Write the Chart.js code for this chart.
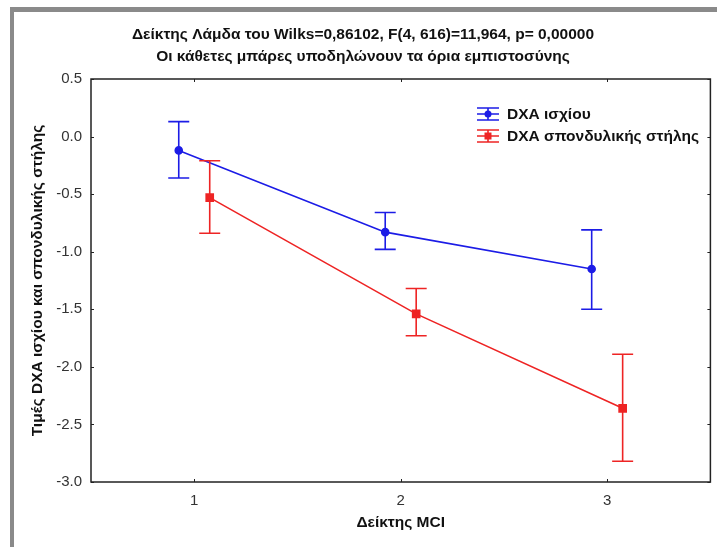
<!DOCTYPE html>
<html>
<head>
<meta charset="utf-8">
<script src="https://cdn.jsdelivr.net/npm/chart.js@4.4.0/dist/chart.umd.min.js"></script>
<style>
  html, body { margin: 0; padding: 0; background: #fff; }
  canvas { display: block; }
</style>
</head>
<body>
<canvas id="chart1" width="717" height="547"></canvas>
<script>
// MCI levels and DXA means with their confidence limits
const mciLevels = [1, 2, 3];
const hipMean = [-0.12, -0.83, -1.15];
const hipUpper = [0.13, -0.66, -0.81];
const hipLower = [-0.36, -0.98, -1.50];
const spineMean = [-0.53, -1.54, -2.36];
const spineUpper = [-0.21, -1.32, -1.89];
const spineLower = [-0.84, -1.73, -2.82];
const yTicks = [0.5, 0.0, -0.5, -1.0, -1.5, -2.0, -2.5, -3.0];
const seriesNames = ['DXA ισχίου', 'DXA σπονδυλικής στήλης'];
const titleLines = [
    'Δείκτης Λάμδα του Wilks=0,86102, F(4, 616)=11,964, p= 0,00000',
    'Οι κάθετες μπάρες υποδηλώνουν τα όρια εμπιστοσύνης'
];

const blue = '#1c1ce6';
const red = '#ee2424';
const dodge = 0.075; // the two series sit a bit left / right of each level
const fontName = '"Liberation Sans", Arial, sans-serif';
const boldSize = 15.5;

function points(means, shift) {
    return mciLevels.map((lvl, i) => ({ x: lvl + shift, y: means[i] }));
}

// white page with the grey frame round it
const page = {
    id: 'page',
    beforeDraw(chart) {
        const ctx = chart.ctx;
        ctx.save();
        ctx.fillStyle = '#fff';
        ctx.fillRect(0, 0, chart.width, chart.height);
        ctx.fillStyle = '#8a8a8a';
        ctx.fillRect(10, 7, chart.width - 10, 5);
        ctx.fillRect(10, 7, 4, chart.height - 7);
        ctx.restore();
    }
};

// vertical confidence bars with caps
const errorBars = {
    id: 'errorBars',
    afterDatasetsDraw(chart) {
        const ctx = chart.ctx;
        const y = chart.scales.y;
        chart.data.datasets.forEach((ds, i) => {
            const meta = chart.getDatasetMeta(i);
            ctx.save();
            ctx.strokeStyle = ds.borderColor;
            ctx.lineWidth = 1.6;
            meta.data.forEach((pt, j) => {
                const top = y.getPixelForValue(ds.upper[j]);
                const bot = y.getPixelForValue(ds.lower[j]);
                ctx.beginPath();
                ctx.moveTo(pt.x, top); ctx.lineTo(pt.x, bot);
                ctx.moveTo(pt.x - 10.5, top); ctx.lineTo(pt.x + 10.5, top);
                ctx.moveTo(pt.x - 10.5, bot); ctx.lineTo(pt.x + 10.5, bot);
                ctx.stroke();
            });
            ctx.restore();
        });
    }
};

// box round the plot with short inward ticks on every side
const frame = {
    id: 'frame',
    afterDraw(chart) {
        const ctx = chart.ctx;
        const a = chart.chartArea;
        const xs = chart.scales.x, ys = chart.scales.y;
        ctx.save();
        ctx.strokeStyle = '#222';
        ctx.lineWidth = 1.5;
        ctx.strokeRect(a.left, a.top, a.right - a.left, a.bottom - a.top);
        ctx.lineWidth = 1;
        ctx.beginPath();
        xs.ticks.forEach(t => {
            const px = Math.round(xs.getPixelForValue(t.value)) + 0.5;
            ctx.moveTo(px, a.bottom); ctx.lineTo(px, a.bottom - 3);
            ctx.moveTo(px, a.top); ctx.lineTo(px, a.top + 3);
        });
        ys.ticks.forEach(t => {
            const py = Math.round(ys.getPixelForValue(t.value)) + 0.5;
            ctx.moveTo(a.left, py); ctx.lineTo(a.left + 3, py);
            ctx.moveTo(a.right, py); ctx.lineTo(a.right - 3, py);
        });
        ctx.stroke();
        ctx.restore();
    }
};

// legend in the upper right of the plot, icons like the bars
const legendBox = {
    id: 'legendBox',
    afterDraw(chart) {
        const ctx = chart.ctx;
        const x0 = 477, y0 = 114, w = 22, rowGap = 22;
        ctx.save();
        chart.data.datasets.forEach((ds, i) => {
            const yy = y0 + i * rowGap;
            const cx = x0 + w / 2;
            ctx.strokeStyle = ds.borderColor;
            ctx.fillStyle = ds.borderColor;
            ctx.lineWidth = 1.6;
            ctx.beginPath();
            [-6, 0, 6].forEach(d => { ctx.moveTo(x0, yy + d); ctx.lineTo(x0 + w, yy + d); });
            ctx.moveTo(cx, yy - 6); ctx.lineTo(cx, yy + 6);
            ctx.stroke();
            ctx.beginPath();
            if (ds.pointStyle === 'rect') ctx.rect(cx - 3.5, yy - 3.5, 7, 7);
            else ctx.arc(cx, yy, 3.5, 0, Math.PI * 2);
            ctx.fill();
            ctx.fillStyle = '#111';
            ctx.font = 'bold ' + boldSize + 'px ' + fontName;
            ctx.textBaseline = 'middle';
            ctx.fillText(ds.label, x0 + w + 8, yy + 1);
        });
        ctx.restore();
    }
};

const ctx = document.getElementById('chart1').getContext('2d');
const chart = new Chart(ctx, {
    type: 'line',
    data: {
        datasets: [{
            label: seriesNames[0],
            data: points(hipMean, -dodge),
            upper: hipUpper,
            lower: hipLower,
            borderColor: blue,
            backgroundColor: blue,
            borderWidth: 1.6,
            pointStyle: 'circle',
            pointRadius: 3.5,
            tension: 0
        }, {
            label: seriesNames[1],
            data: points(spineMean, dodge),
            upper: spineUpper,
            lower: spineLower,
            borderColor: red,
            backgroundColor: red,
            borderWidth: 1.6,
            pointStyle: 'rect',
            pointRadius: 5,
            tension: 0
        }]
    },
    options: {
        responsive: false,
        animation: false,
        layout: { padding: { left: 14, right: 5, top: 0, bottom: 0 } },
        plugins: {
            legend: { display: false },
            tooltip: { enabled: false },
            title: {
                display: true,
                text: titleLines,
                color: '#111',
                font: { family: fontName, size: boldSize, weight: 'bold', lineHeight: 22 / boldSize },
                padding: { top: 24, bottom: 11 }
            }
        },
        scales: {
            x: {
                type: 'linear',
                min: 0.5,
                max: 3.5,
                afterBuildTicks: s => { s.ticks = mciLevels.map(v => ({ value: v })); },
                afterFit: s => { s.height = 65; },
                grid: { display: false, drawTicks: false },
                border: { display: false },
                ticks: {
                    color: '#333',
                    padding: 10,
                    font: { family: fontName, size: 15 },
                    callback: v => String(v)
                },
                title: {
                    display: true,
                    text: 'Δείκτης MCI',
                    color: '#111',
                    font: { family: fontName, size: boldSize, weight: 'bold' },
                    padding: { top: 0, bottom: 14.5 }
                }
            },
            y: {
                min: -3,
                max: 0.5,
                afterBuildTicks: s => { s.ticks = yTicks.map(v => ({ value: v })); },
                afterFit: s => { s.width = 77; },
                grid: { display: false, drawTicks: false },
                border: { display: false },
                ticks: {
                    color: '#333',
                    padding: 9,
                    font: { family: fontName, size: 15 },
                    callback: v => v.toFixed(1)
                },
                title: {
                    display: true,
                    text: 'Τιμές DXA ισχίου και σπονδυλικής στήλης',
                    color: '#111',
                    font: { family: fontName, size: boldSize, weight: 'bold' },
                    padding: { top: 14, bottom: 0 }
                }
            }
        }
    },
    plugins: [page, errorBars, frame, legendBox]
});
</script>
</body>
</html>
